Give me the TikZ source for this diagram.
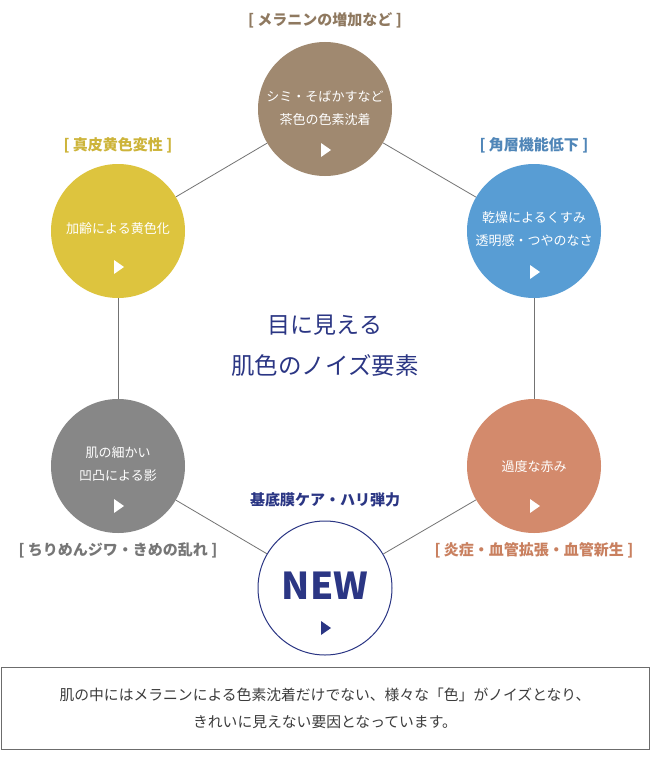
\documentclass[tikz,border=0pt]{standalone}
\usepackage{fontspec}
\setmainfont{Noto Sans CJK JP}
\definecolor{cbrown}{RGB}{160,137,112}
\definecolor{cyellow}{RGB}{221,196,62}
\definecolor{cblue}{RGB}{88,157,212}
\definecolor{cgray}{RGB}{135,135,135}
\definecolor{csalmon}{RGB}{211,138,108}
\definecolor{cnavy}{RGB}{43,54,132}
\definecolor{lbrown}{RGB}{143,121,96}
\definecolor{lyellow}{RGB}{205,180,58}
\definecolor{lblue}{RGB}{80,134,184}
\definecolor{lgray}{RGB}{118,118,118}
\definecolor{lsalmon}{RGB}{201,128,95}
\definecolor{btext}{RGB}{60,60,60}
\begin{document}
\begin{tikzpicture}[x=1pt,y=-1pt,
  blob/.style={circle,minimum size=134pt,inner sep=0pt},
  ctext/.style={text=white,font=\fontsize{13}{13}\selectfont,inner sep=0pt},
  lbl/.style={font=\fontsize{15}{15}\selectfont\bfseries,inner sep=0pt},
  conn/.style={draw=gray!90!black,line width=0.8pt}]
\useasboundingbox (0,0) rectangle (650,760);
\fill[white] (0,0) rectangle (650,760);
% circles
\node[blob,fill=cbrown] (top) at (325,109) {};
\node[blob,fill=cyellow] (yel) at (118,231) {};
\node[blob,fill=cblue] (blu) at (534,231) {};
\node[blob,fill=cgray] (gry) at (118,466) {};
\node[blob,fill=csalmon] (sal) at (534,466) {};
\node[blob,draw=cnavy,line width=1pt,fill=white] (new) at (325,588) {};
% connectors
\draw[conn] (top) -- (yel);
\draw[conn] (top) -- (blu);
\draw[conn] (yel) -- (gry);
\draw[conn] (blu) -- (sal);
\draw[conn] (gry) -- (new);
\draw[conn] (sal) -- (new);
% circle texts
\node[ctext] (t1) at (325,97) {シミ・そばかすなど};
\node[ctext] (t2) at (325,120) {茶色の色素沈着};
\node[ctext] (y1) at (118,229) {加齢による黄色化};
\node[ctext] (b1) at (534,218) {乾燥によるくすみ};
\node[ctext] (b2) at (534,241) {透明感・つやのなさ};
\node[ctext] (g1) at (118,453) {肌の細かい};
\node[ctext] (g2) at (118,476) {凹凸による影};
\node[ctext] (s1) at (534,467) {過度な赤み};
\node[text=cnavy,font=\fontsize{37}{37}\selectfont\bfseries,inner sep=0pt] (nw) at (325,586) {NEW};
% triangles
\fill[white] (321,143) -- (331,150) -- (321,157) -- cycle;
\fill[white] (114,260) -- (124,267) -- (114,274) -- cycle;
\fill[white] (530,265) -- (540,272) -- (530,279) -- cycle;
\fill[white] (114,499) -- (124,506) -- (114,513) -- cycle;
\fill[white] (530,499) -- (540,506) -- (530,513) -- cycle;
\fill[cnavy] (321,621) -- (331,628) -- (321,635) -- cycle;
% labels
\node[lbl,text=lbrown] (l1) at (325,20) {[ メラニンの増加など ]};
\node[lbl,text=lyellow] (l2) at (118,145) {[ 真皮黄色変性 ]};
\node[lbl,text=lblue] (l3) at (534,145) {[ 角層機能低下 ]};
\node[lbl,text=lgray] (l4) at (118,550) {[ ちりめんジワ・きめの乱れ ]};
\node[lbl,text=lsalmon] (l5) at (534,550) {[ 炎症・血管拡張・血管新生 ]};
\node[lbl,text=cnavy] (l6) at (325,500) {基底膜ケア・ハリ弾力};
% center
\node[text=cnavy,font=\fontsize{23}{23}\selectfont,inner sep=0pt] (c1) at (325,325) {目に見える};
\node[text=cnavy,font=\fontsize{23.5}{23.5}\selectfont,inner sep=0pt] (c2) at (325,366) {肌色のノイズ要素};
% bottom box
\node[draw=gray!85!black,line width=0.9pt,minimum width=648pt,minimum height=82pt,inner sep=0pt] (box) at (325,708) {};
\node[text=btext,font=\fontsize{14.8}{14.8}\selectfont,inner sep=0pt] (bt1) at (325,695) {肌の中にはメラニンによる色素沈着だけでない、様々な「色」がノイズとなり、};
\node[text=btext,font=\fontsize{14.8}{14.8}\selectfont,inner sep=0pt] (bt2) at (325,722) {きれいに見えない要因となっています。};
\end{tikzpicture}
\end{document}
